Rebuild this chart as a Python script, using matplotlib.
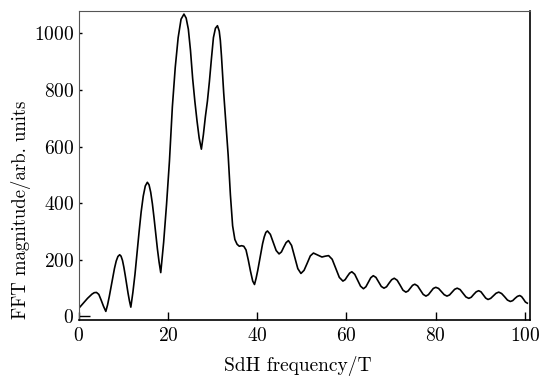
import numpy as np
import matplotlib
matplotlib.use('Agg')
import matplotlib.pyplot as plt

plt.rcParams['font.family'] = 'cmr10'
plt.rcParams['axes.formatter.use_mathtext'] = True

#---------------------------------- DATA -----------------------------------
freq = [0, 1, 2, 3, 3.5, 4.0, 4.53, 5.05, 5.58, 6.1,
        6.49, 6.88, 7.26, 7.65, 8.04, 8.43, 8.81, 9.2,
        9.51, 9.83, 10.14, 10.45, 10.76, 11.08, 11.39, 11.7,
        12.16, 12.63, 13.09, 13.55, 14.01, 14.48, 14.94, 15.4,
        15.78, 16.15, 16.53, 16.9, 17.28, 17.65, 18.03, 18.4,
        19.05, 19.7, 20.35, 21.0, 21.65, 22.3, 22.95, 23.6,
        24.09, 24.58, 25.06, 25.55, 26.04, 26.53, 27.01, 27.5,
        27.95, 28.4, 28.85, 29.3, 29.75, 30.2, 30.65, 31.1,
        31.5, 31.75, 32.0, 32.5, 33.0, 33.5, 34.0, 34.5, 35.0,
        35.5, 36.0, 36.5, 37.0, 37.5, 38.0, 38.5, 39.0, 39.4,
        39.76, 40.13, 40.49, 40.85, 41.21, 41.58, 41.94, 42.3,
        42.95, 43.6, 44.25, 44.9, 45.43, 45.95, 46.48, 47.0,
        47.7, 48.4, 49.1, 49.8, 50.5, 51.2, 51.9, 52.6,
        53.55, 54.5, 55.25, 56.0, 56.8, 57.6, 58.4, 59.2,
        59.7, 60.2, 60.7, 61.2, 61.85, 62.5, 63.15, 63.8,
        64.35, 64.9, 65.45, 66.0, 66.6, 67.2, 67.8, 68.4,
        68.98, 69.55, 70.13, 70.7, 71.35, 72.0, 72.65, 73.3,
        73.8, 74.3, 74.8, 75.3, 75.93, 76.55, 77.18, 77.8,
        78.35, 78.9, 79.45, 80.0, 80.63, 81.25, 81.88, 82.5,
        83.08, 83.65, 84.23, 84.8, 85.45, 86.1, 86.75, 87.4,
        87.95, 88.5, 89.05, 89.6, 90.13, 90.65, 91.18, 91.7,
        92.3, 92.9, 93.5, 94.1, 94.75, 95.4, 96.05, 96.7,
        97.23, 97.75, 98.28, 98.8, 99.23, 99.65, 100.08, 100.5]
magnitude = [28, 46, 64, 79, 84, 85, 78, 58, 36, 18,
             41, 71, 104, 139, 170, 196, 212, 218,
             213, 198, 174, 145, 113, 82, 55, 33,
             85, 149, 224, 299, 369, 425, 461, 474,
             465, 439, 398, 348, 293, 239, 192, 155,
             262, 396, 549, 740, 880, 985, 1050, 1068,
             1054, 1015, 940, 840, 760, 690, 630, 591,
             642, 706, 760, 830, 910, 985, 1018, 1027,
             1008, 975, 920, 790, 680, 570, 430, 320, 272,
             255, 248, 250, 248, 235, 200, 160, 125, 113,
             135, 163, 195, 227, 257, 281, 297, 302,
             290, 262, 233, 221, 228, 245, 261, 268,
             251, 210, 169, 152, 163, 188, 214, 224,
             217, 210, 213, 215, 202, 170, 138, 125,
             130, 142, 153, 158, 149, 128, 107, 98,
             105, 121, 137, 144, 138, 122, 106, 100,
             105, 118, 130, 135, 128, 111, 93, 86,
             90, 100, 110, 114, 108, 93, 78, 72,
             77, 88, 99, 103, 99, 88, 77, 72,
             76, 86, 96, 100, 95, 82, 69, 64,
             68, 78, 87, 91, 87, 76, 65, 60,
             64, 73, 82, 86, 81, 70, 58, 53,
             56, 64, 71, 74, 70, 61, 51, 47]
xticks = [0, 20, 40, 60, 80, 100]
yticks = [0, 200, 400, 600, 800, 1000]

##------------------------------------ plot -----------------------------------
fig = plt.figure(figsize=(5.42, 3.79), dpi=100)
ax = fig.add_axes([0.145, 0.156, 0.832, 0.815])
ax.plot(freq, magnitude, color='k', lw=1.2)
ax.set_xlim(0, 101)
ax.set_ylim(-12, 1079)
ax.set_xticks(xticks)
ax.set_yticks(yticks)
ax.tick_params(axis='x', direction='in', length=6, width=1, labelsize=14, pad=5)
ax.tick_params(axis='y', direction='in', length=2.5, width=1, labelsize=14, pad=3)
ax.yaxis.get_major_ticks()[0].tick1line.set_markersize(8)
ax.set_xlabel('SdH frequency/T', fontsize=14)
ax.set_ylabel('FFT magnitude/arb. units', fontsize=13.5)
ax.xaxis.set_label_coords(0.486, -0.118)
ax.yaxis.set_label_coords(-0.105, 0.355)
for side in ['top', 'left']:
    ax.spines[side].set_color('#555555')
for side in ['bottom', 'right']:
    ax.spines[side].set_color('k')
    ax.spines[side].set_linewidth(1.2)
fig.savefig('out.png', dpi=100)
